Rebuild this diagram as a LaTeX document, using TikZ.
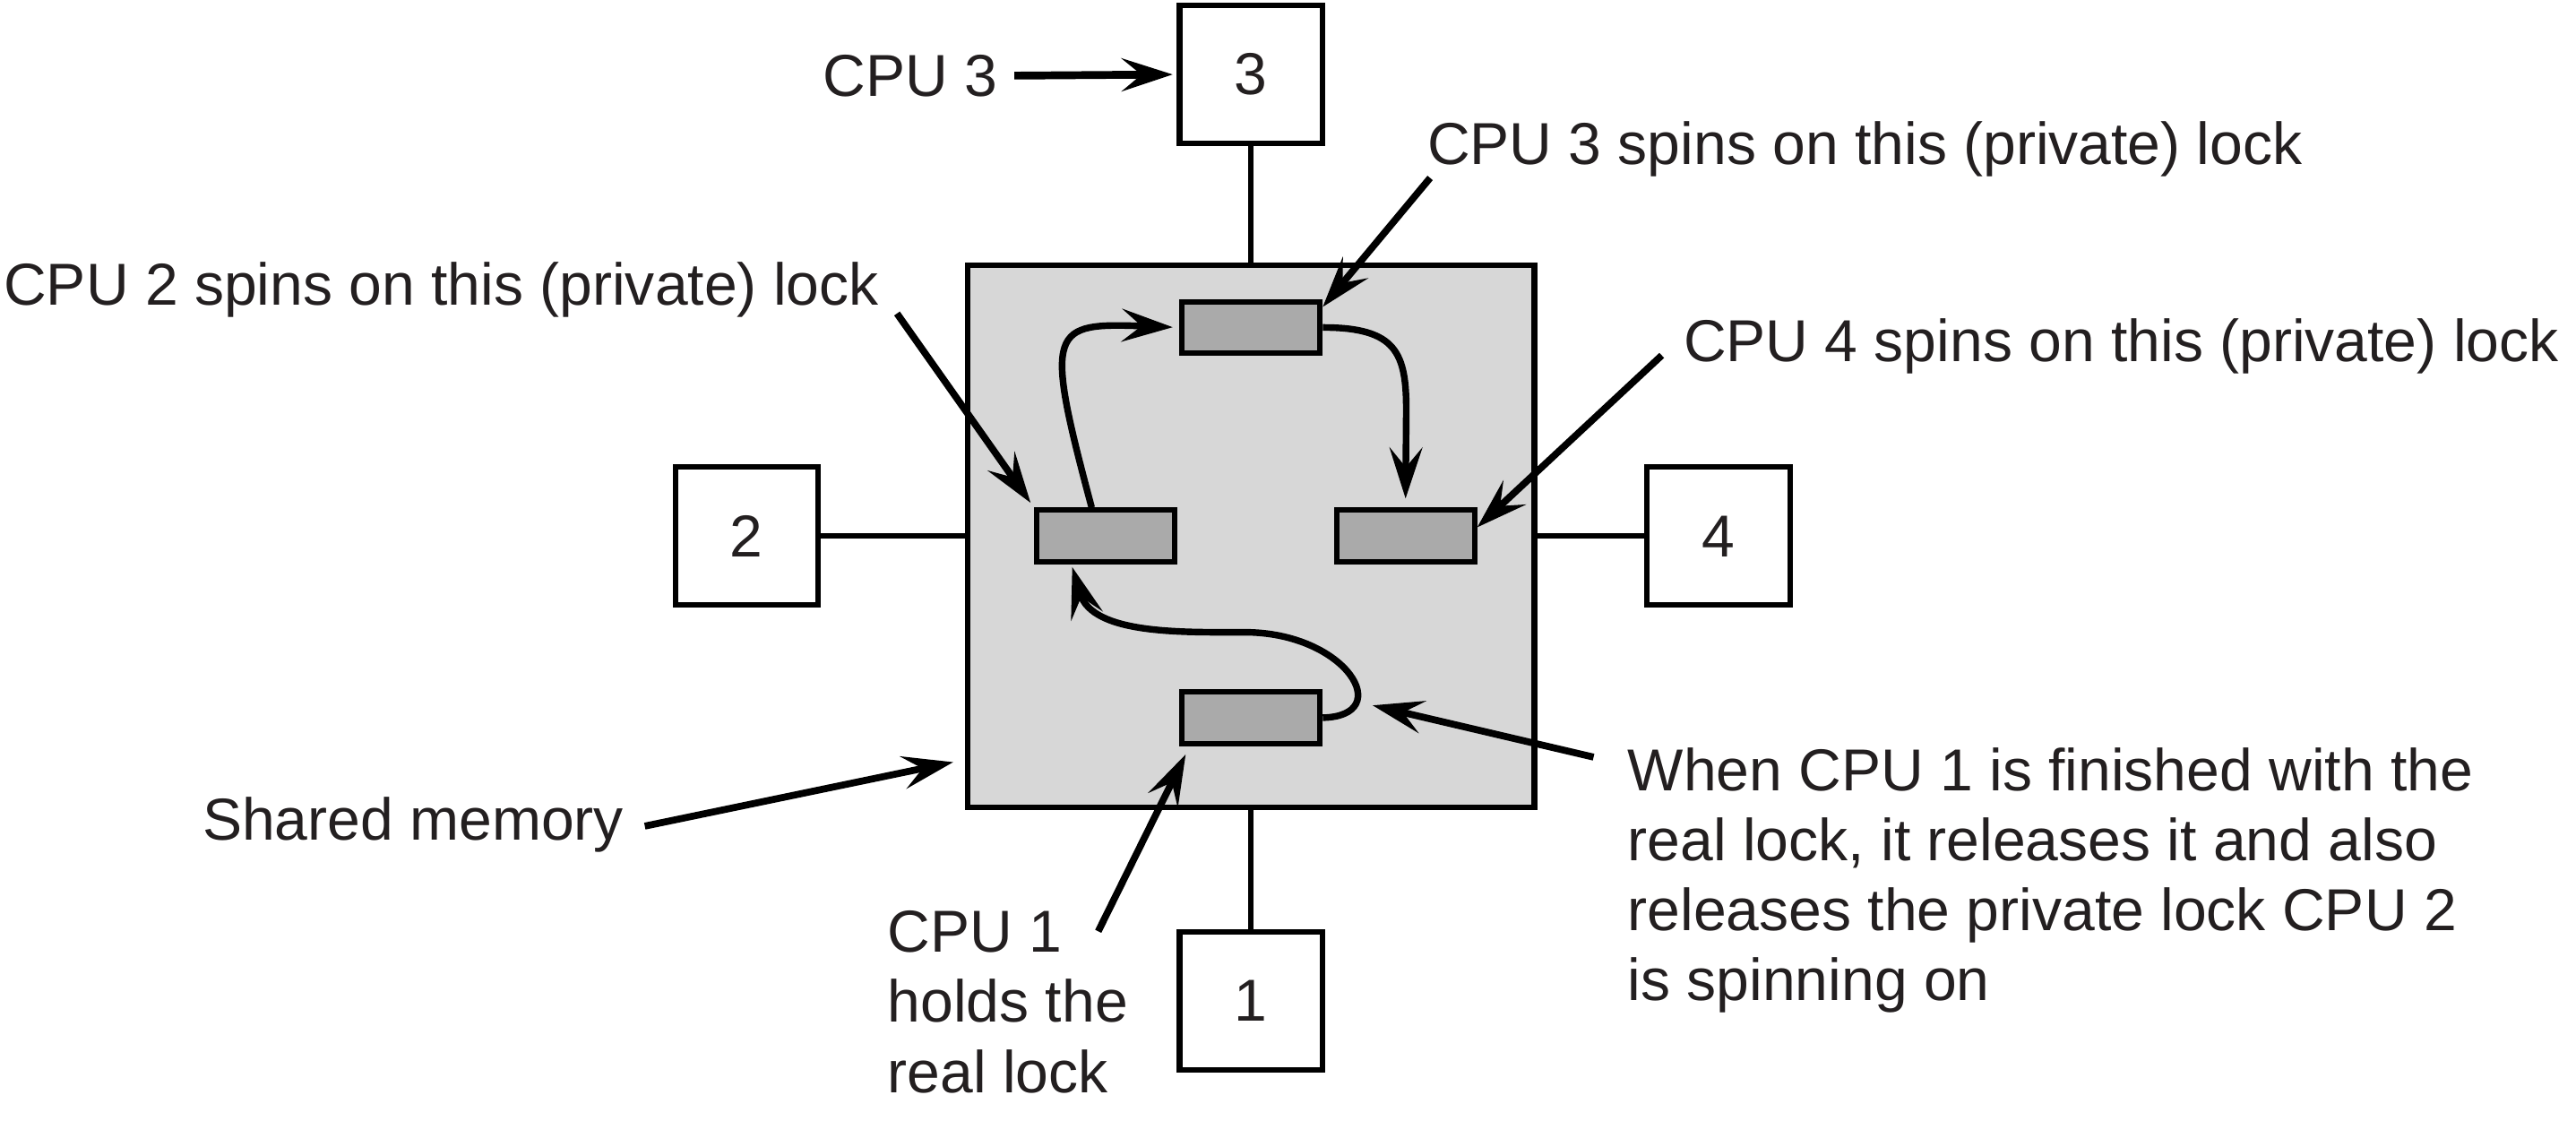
\documentclass[tikz,border=0pt]{standalone}
\usepackage{fontspec}
\setmainfont{Liberation Sans}
\usepackage{tikz}
\usetikzlibrary{arrows.meta,positioning,calc}
\definecolor{memgray}{RGB}{215,215,215}
\definecolor{lockgray}{RGB}{170,170,170}
\definecolor{inkblack}{RGB}{35,31,32}

\begin{document}
\begin{tikzpicture}[
    cpu/.style={draw, line width=1.9pt, minimum width=1.74cm, minimum height=1.68cm, inner sep=0pt, font=\fontsize{20.5}{24.3}\selectfont, text=inkblack},
    lock/.style={draw, line width=1.9pt, fill=lockgray, minimum width=1.68cm, minimum height=0.63cm, inner sep=0pt},
    lbl/.style={inner sep=0pt, font=\fontsize{20.5}{24.3}\selectfont, text=inkblack, align=left},
    link/.style={line width=1.9pt},
    >={Stealth[length=6.2mm, width=4mm, inset=2.4mm]},
    note/.style={->, line width=2.4pt},
    flow/.style={->, line width=2.3pt}
]
\useasboundingbox (-15.23,-7.114) rectangle (16.13,6.526);

% shared memory and the four CPUs
\node[draw, line width=1.9pt, fill=memgray, minimum width=6.9cm, minimum height=6.6cm] (mem) at (0,0) {};
\node[cpu] (cpu3) at (0,5.62) {3};
\node[cpu] (cpu1) at (0,-5.66) {1};
\node[cpu] (cpu2) at (-6.14,0) {2};
\node[cpu] (cpu4) at (5.69,0) {4};
\draw[link] (cpu3) -- (mem);
\draw[link] (cpu1) -- (mem);
\draw[link] (cpu2) -- (mem);
\draw[link] (cpu4) -- (mem);

% the locks
\node[lock] (lockT) at (0,2.54) {};
\node[lock] (lockL) at (-1.77,0) {};
\node[lock] (lockR) at (1.88,0) {};
\node[lock] (lockB) at (0,-2.21) {};

\draw[flow, shorten >=0.08cm] ([xshift=-0.17cm]lockL.north) .. controls (-2.53,2.55) and (-2.45,2.6) .. (lockT.west);
\draw[flow, shorten >=0.11cm] (lockT.east) .. controls (1.77,2.54) and (1.89,2.23) .. (1.89,1.53) -- (lockR.north);
\draw[flow, shorten >=0.03cm] (lockB.east) .. controls (1.77,-2.19) and (1.17,-1.17) .. (-0.08,-1.17)
    .. controls (-0.83,-1.17) and (-1.93,-1.2) .. (lockL.220);

% labels
\node[lbl, anchor=base east] (lbl3) at (-3.08,5.356) {CPU 3};
\node[lbl, anchor=base west] (spin3) at (2.14,4.53) {CPU 3 spins on this (private) lock};
\node[lbl, anchor=base west] (spin2) at (-15.19,2.81) {CPU 2 spins on this (private) lock};
\node[lbl, anchor=base west] (spin4) at (5.26,2.13) {CPU 4 spins on this (private) lock};
\node[lbl, anchor=base west] (shared) at (-12.77,-3.70) {Shared memory};
\node[lbl, anchor=north west] (holds) at (-4.43,-4.554) {CPU 1\\holds the\\real lock};
\node[lbl, anchor=north west] (release) at (4.58,-2.566) {When CPU 1 is finished with the\\real lock, it releases it and also\\releases the private lock CPU 2\\is spinning on};

% pointers from the labels
\coordinate (t2) at (-4.31,2.71);
\coordinate (t3) at (2.18,4.36);
\coordinate (t4) at (5.00,2.20);
\coordinate (t1) at (-1.86,-4.81);
\coordinate (tw) at (4.17,-2.69);
\coordinate (tm) at (-7.38,-3.53);
\coordinate (loop) at (1.48,-2.06);

\draw[->, line width=2.7pt, shorten <=0.2cm, shorten >=0.05cm] (lbl3.east) -- (cpu3.west);
\draw[note, shorten >=0.07cm] (t2) -- (lockL.north west);
\draw[note] (t3) -- (lockT.16);
\draw[note] (t4) -- (lockR.7);
\draw[note, shorten >=0.11cm] (t1) -- (lockB.205);
\draw[note] (tw) -- (loop);
\draw[note, shorten >=0.145cm] (tm) -- (mem.218.1);
\end{tikzpicture}
\end{document}
